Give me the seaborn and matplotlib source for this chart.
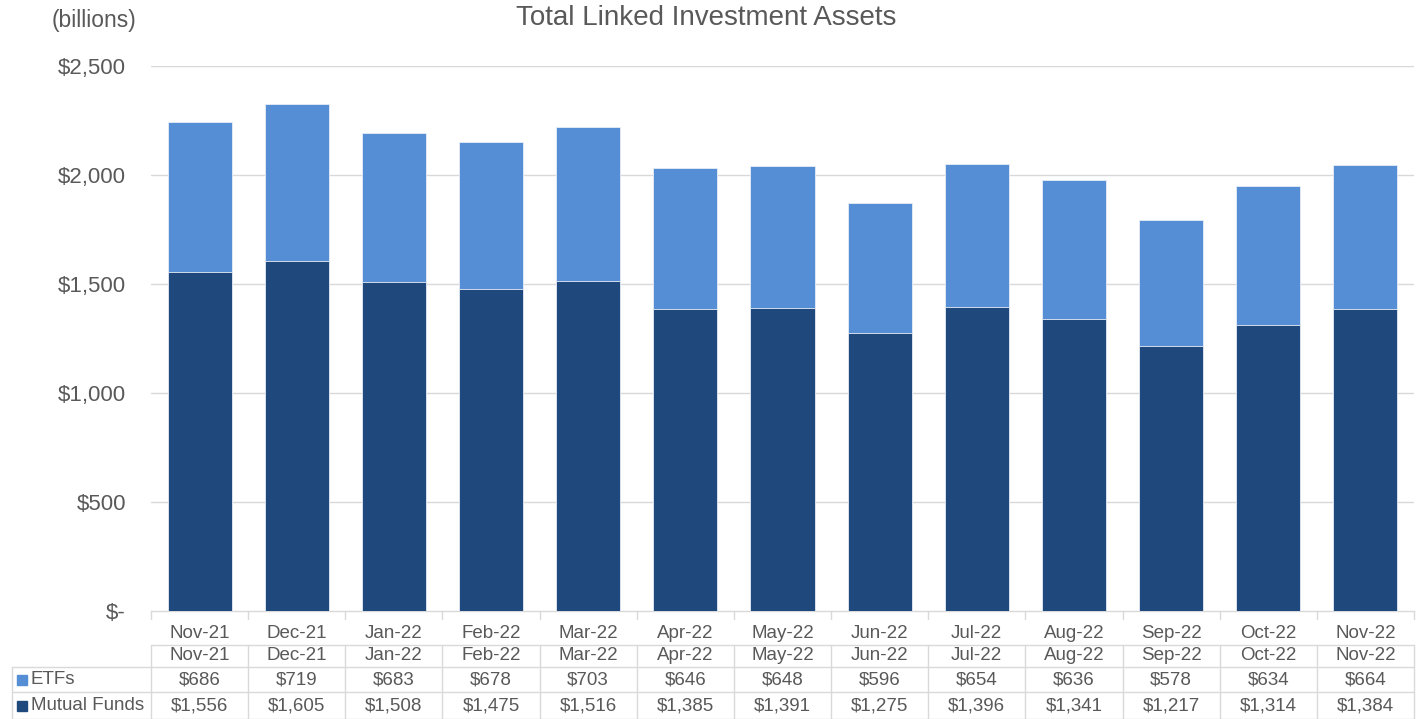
import numpy as np
import pandas as pd
import matplotlib
matplotlib.use("Agg")
import matplotlib.pyplot as plt
import matplotlib.transforms as mtransforms
from matplotlib.lines import Line2D
from matplotlib.patches import Rectangle
import seaborn as sns

months = ["Nov-21", "Dec-21", "Jan-22", "Feb-22", "Mar-22", "Apr-22", "May-22",
          "Jun-22", "Jul-22", "Aug-22", "Sep-22", "Oct-22", "Nov-22"]
etfs = [686, 719, 683, 678, 703, 646, 648, 596, 654, 636, 578, 634, 664]
mutual_funds = [1556, 1605, 1508, 1475, 1516, 1385, 1391, 1275, 1396, 1341, 1217, 1314, 1384]
y_ticks = [0, 500, 1000, 1500, 2000, 2500]
y_tick_labels = ["$-", "$500", "$1,000", "$1,500", "$2,000", "$2,500"]

C_ETF = "#558ED5"
C_MF = "#1F497D"
TXT = "#595959"
GRID = "#D9D9D9"

sns.set_theme(style="white")
plt.rcParams['font.family'] = ['Liberation Sans', 'DejaVu Sans']

W, H = 1419, 719
fig = plt.figure(figsize=(W / 100, H / 100), dpi=100)
left, right, bottom, top = 151, 1414, 611, 66
ax = fig.add_axes([left / W, 1 - bottom / H, (right - left) / W, (bottom - top) / H])

df = pd.DataFrame({"month": months, "etf": etfs, "mf": mutual_funds})
df["total"] = df["etf"] + df["mf"]

sns.barplot(data=df, x="month", y="total", color=C_ETF, width=0.66, ax=ax,
            saturation=1, edgecolor="#E8EEF6", linewidth=0.6, zorder=3)
sns.barplot(data=df, x="month", y="mf", color=C_MF, width=0.66, ax=ax,
            saturation=1, edgecolor="#E8EEF6", linewidth=0.6, zorder=4)

ax.set_xlim(-0.5, len(months) - 0.5)
ax.set_ylim(0, 2500)
ax.set_yticks(y_ticks)
ax.set_yticklabels(y_tick_labels)
ax.tick_params(axis="y", length=0, pad=18, labelsize=16, labelcolor=TXT)
ax.set_xticks([])
ax.set_xlabel("")
ax.set_ylabel("")
for s in ["top", "right", "left"]:
    ax.spines[s].set_visible(False)
ax.spines["bottom"].set_color(GRID)
ax.spines["bottom"].set_linewidth(1)
for t in y_ticks[1:]:
    ax.axhline(t, color=GRID, lw=1, zorder=0)
for lab in ax.get_yticklabels():
    lab.set_horizontalalignment("right")

fig.text(706 / W, 1 - 18 / H, "Total Linked Investment Assets", ha="center", va="center",
         fontsize=20, color=TXT)
fig.text(94 / W, 1 - 20 / H, "(billions)", ha="center", va="center", fontsize=16.5, color=TXT)

# data table below the axis
tr = mtransforms.blended_transform_factory(ax.transData, fig.transFigure)
def fy(py):
    return 1 - py / H

n = len(months)
bounds = np.arange(n + 1) - 0.5
for b in bounds:
    fig.add_artist(Line2D([b, b], [fy(611), fy(619)], transform=tr, color=GRID, lw=1))
    fig.add_artist(Line2D([b, b], [fy(645), fy(719)], transform=tr, color=GRID, lw=1))
fig.add_artist(Line2D([-0.5, n - 0.5], [fy(645), fy(645)], transform=tr, color=GRID, lw=1))
for py in [667, 692, 718.5]:
    fig.add_artist(Line2D([12 / W, right / W], [fy(py), fy(py)], transform=fig.transFigure,
                          color=GRID, lw=1))
fig.add_artist(Line2D([12 / W, 12 / W], [fy(667), fy(719)], transform=fig.transFigure,
                      color=GRID, lw=1))

for i, m in enumerate(months):
    fig.text(i, fy(633), m, transform=tr, ha="center", va="center", fontsize=13.5, color=TXT)
    fig.text(i, fy(656), m, transform=tr, ha="center", va="center", fontsize=13.5, color=TXT)
    fig.text(i, fy(680), f"${etfs[i]:,}", transform=tr, ha="center", va="center",
             fontsize=13.5, color=TXT)
    fig.text(i, fy(706), f"${mutual_funds[i]:,}", transform=tr, ha="center", va="center",
             fontsize=13.5, color=TXT)

for py, lab, col in [(680, "ETFs", C_ETF), (706, "Mutual Funds", C_MF)]:
    fig.add_artist(Rectangle((17 / W, fy(py + 5)), 10 / W, 10 / H, transform=fig.transFigure,
                             color=col))
    fig.text(31 / W, fy(py), lab, ha="left", va="center", fontsize=13.5, color=TXT)

fig.savefig("out.png", dpi=100)
